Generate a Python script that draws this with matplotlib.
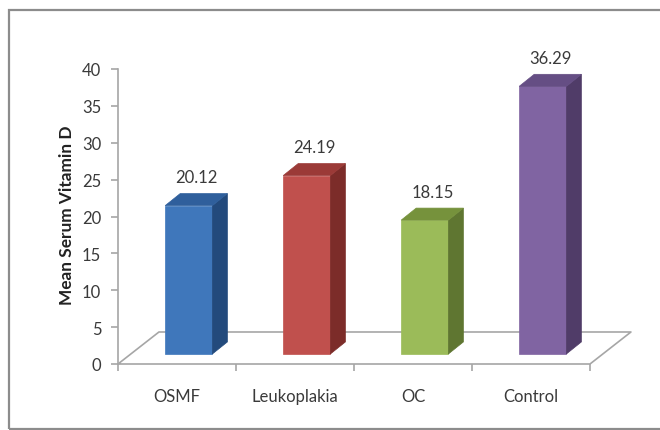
import matplotlib
matplotlib.use("Agg")
import matplotlib.pyplot as plt
from matplotlib.patches import Polygon, Rectangle

# -----------------------------
# Data
# -----------------------------
groups = ["OSMF", "Leukoplakia", "OC", "Control"]
means = [20.12, 24.19, 18.15, 36.29]
front_colors = ["#3F77BB", "#C0504D", "#9BBB59", "#8064A2"]
side_colors = ["#234A7C", "#7C2C29", "#5F7631", "#503C68"]
top_colors = ["#2F5F9C", "#9B3A37", "#76923C", "#654E84"]
y_ticks = [0, 5, 10, 15, 20, 25, 30, 35, 40]

# -----------------------------
# 3D look settings (data units)
# -----------------------------
FLOOR_DX, FLOOR_DY = 0.347, 4.34   # depth of the floor
BAR_OFF_DX, BAR_OFF_DY = 0.10, 1.36  # bars sit a bit back from the front edge
BAR_W = 0.40
BAR_DX, BAR_DY = 0.127, 1.63       # depth of each bar
LABEL_GAP = 2.2

FONT = ["Lato", "DejaVu Sans"]
TEXT_C = "#3a3a3a"
GRID_C = "#a6a6a6"

fig = plt.figure(figsize=(6.6, 4.31), dpi=100)
ax = fig.add_axes([118 / 660, 66 / 431, 472 / 660, 295 / 431])
ax.set_xlim(0, len(groups))
ax.set_ylim(0, 40)

# floor outline
floor_x = [0, FLOOR_DX, len(groups) + FLOOR_DX, len(groups), 0]
floor_y = [0, FLOOR_DY, FLOOR_DY, 0, 0]
ax.plot(floor_x, floor_y, color=GRID_C, lw=1.2, clip_on=False, zorder=1)

# bars
for i, (v, fc, sc, tc) in enumerate(zip(means, front_colors, side_colors, top_colors)):
    x0 = i + 0.5 - BAR_W / 2 + BAR_OFF_DX
    y0 = BAR_OFF_DY
    x1 = x0 + BAR_W
    y1 = y0 + v
    front = Polygon([(x0, y0), (x1, y0), (x1, y1), (x0, y1)], closed=True,
                    facecolor=fc, edgecolor=fc, lw=0.5, clip_on=False, zorder=3)
    side = Polygon([(x1, y0), (x1 + BAR_DX, y0 + BAR_DY), (x1 + BAR_DX, y1 + BAR_DY), (x1, y1)],
                   closed=True, facecolor=sc, edgecolor=sc, lw=0.5, clip_on=False, zorder=3)
    top = Polygon([(x0, y1), (x1, y1), (x1 + BAR_DX, y1 + BAR_DY), (x0 + BAR_DX, y1 + BAR_DY)],
                  closed=True, facecolor=tc, edgecolor=tc, lw=0.5, clip_on=False, zorder=3)
    for p in (front, side, top):
        ax.add_patch(p)
    ax.text((x0 + x1 + BAR_DX) / 2, y1 + BAR_DY + LABEL_GAP, f"{v:.2f}",
            ha="center", va="center", fontsize=12, color=TEXT_C, family=FONT)

# axes styling
for s in ["top", "right", "bottom"]:
    ax.spines[s].set_visible(False)
ax.spines["left"].set_color(GRID_C)
ax.spines["left"].set_linewidth(1.2)

ax.set_yticks(y_ticks)
ax.set_yticklabels([str(t) for t in y_ticks], family=FONT, fontsize=12, color=TEXT_C)
ax.tick_params(axis="y", length=5, width=1.2, color=GRID_C, pad=7)

ax.set_xticks(range(len(groups) + 1))
ax.set_xticklabels([""] * (len(groups) + 1))
ax.set_xticks([i + 0.5 for i in range(len(groups))], minor=True)
ax.set_xticklabels(groups, minor=True, family=FONT, fontsize=12, color=TEXT_C)
ax.tick_params(axis="x", which="major", length=5, width=1.2, color=GRID_C)
ax.tick_params(axis="x", which="minor", length=0, pad=17)

ax.set_ylabel("Mean Serum Vitamin D", family=FONT, fontsize=12.4,
              fontweight="bold", color="#222222")
ax.yaxis.set_label_coords(-0.091, 0.508)
ax.patch.set_visible(False)

# chart border (right edge runs off the picture)
fig.patches.append(Rectangle((9 / 660, 1 / 431), 1.0, 419 / 431, transform=fig.transFigure,
                             fill=False, edgecolor="#8c8c8c", lw=1.6, zorder=0))

fig.savefig("out.png", dpi=100)
